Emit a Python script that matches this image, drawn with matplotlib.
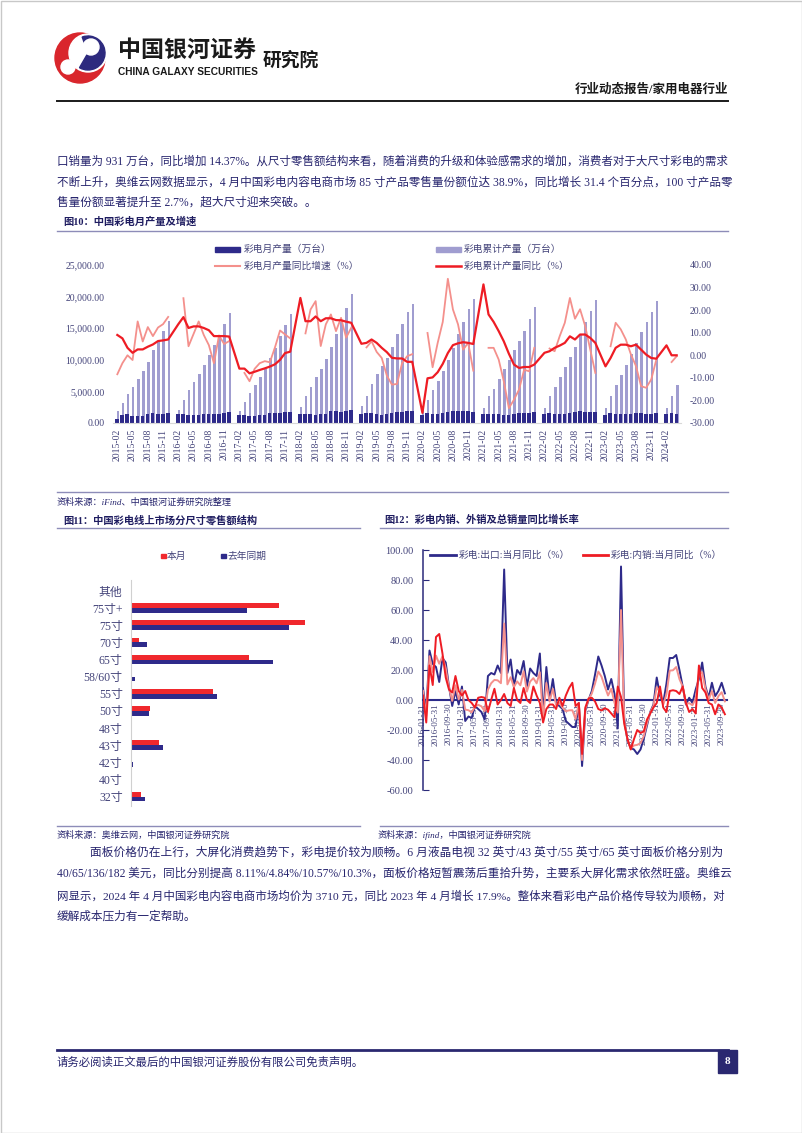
import numpy as np
import matplotlib
matplotlib.use("Agg")
import matplotlib.pyplot as plt
from matplotlib.patches import Rectangle, Circle, Wedge
from matplotlib.lines import Line2D

nan = np.nan
FAM = ['Liberation Serif', 'Noto Sans CJK SC']
plt.rcParams['font.family'] = FAM

# ---------------- Figure 10 data (万台 / %) ----------------
months10 = []
for _y in range(2015, 2025):
    for _m in range(1, 13):
        if (_y == 2015 and _m < 2) or (_y == 2024 and _m > 4):
            continue
        months10.append(f"{_y}-{_m:02d}")

monthly_prod = [
    630, 1300, 1350, 1100, 1150, 1150, 1350, 1650, 1400, 1450, 1550,
    nan, 1450, 1350, 1250, 1200, 1250, 1400, 1500, 1500, 1450, 1550, 1750,
    nan, 1250, 1250, 1150, 1100, 1200, 1300, 1550, 1600, 1600, 1700, 1800,
    nan, 1350, 1500, 1400, 1300, 1400, 1500, 1850, 1900, 1800, 1900, 2000,
    nan, 1500, 1600, 1600, 1400, 1300, 1400, 1600, 1800, 1800, 1850, 1900,
    nan, 1200, 1600, 1450, 1450, 1550, 1700, 1850, 1950, 1850, 1900, 1800,
    nan, 1400, 1500, 1350, 1350, 1300, 1300, 1450, 1550, 1550, 1600, 1700,
    nan, 1500, 1650, 1400, 1400, 1450, 1550, 1750, 1950, 1750, 1700, 1700,
    nan, 1300, 1600, 1500, 1400, 1450, 1500, 1600, 1600, 1400, 1500, 1600,
    nan, 1400, 1600, 1500]

cum_prod = [
    1850, 3200, 4650, 5700, 7000, 8200, 9700, 11600, 13050, 14500, 16100,
    nan, 2100, 3700, 5200, 6450, 7800, 9100, 10700, 12300, 13850, 15600, 17400,
    nan, 1950, 3400, 4750, 6000, 7300, 8550, 10300, 11900, 13700, 15500, 17200,
    nan, 2600, 4200, 5700, 7250, 8600, 10150, 12050, 14100, 16000, 18200, 20350,
    nan, 2650, 4300, 6100, 7800, 9000, 10300, 12100, 14100, 15600, 17500, 18900,
    nan, 2000, 3700, 5200, 6700, 8300, 10000, 11900, 14100, 16000, 18000, 19600,
    nan, 2400, 4200, 5400, 7000, 8500, 9900, 11500, 12900, 14500, 16500, 18300,
    nan, 2400, 4200, 5700, 7200, 8900, 10400, 12100, 14000, 16000, 17700, 19500,
    nan, 2300, 4200, 6000, 7600, 9200, 10900, 12700, 14400, 16000, 17600, 19300,
    nan, 2400, 4200, 6000]

monthly_yoy = [
    -8.4, -3.5, 0.0, -2.1, 15.0, 6.1, 12.5, 8.5, 12.3, 13.8, 17.0,
    nan, nan, 25.3, 4.0, 9.5, 15.0, 9.0, 4.5, -3.5, 8.8, 5.0, 6.3,
    nan, nan, -7.8, -11.5, -6.0, -3.5, -2.6, -3.1, 3.5, 11.0, 9.2, 7.5,
    nan, nan, 9.7, 20.3, 24.0, 4.1, 13.7, 18.1, 10.7, 16.6, 7.8, 12.2,
    nan, nan, 3.5, 6.2, 1.5, -1.2, -9.0, -13.0, -12.7, -3.5, -0.4, 0.5,
    nan, nan, 9.9, -5.3, 5.5, 14.8, 33.9, 20.3, 13.7, 2.5, 5.5, -6.8,
    nan, nan, 3.3, 3.3, -1.9, -11.5, -23.4, -19.7, -15.2, -6.4, -7.1, 3.3,
    nan, nan, 3.0, 1.8, 8.5, 14.4, 25.4, 16.2, 20.4, 13.0, 2.6, -7.8,
    nan, nan, 4.0, 14.4, 11.5, 7.0, 0.4, -4.8, -13.7, -14.4, -10.7, -1.9,
    nan, nan, -3.0, -0.4]

cum_yoy = [
    9.0, 7.5, 3.3, 1.1, 2.6, 2.6, 3.8, 4.8, 6.3, 6.6, 7.0,
    nan, 13.8, 16.9, 12.1, 12.8, 12.8, 12.1, 11.1, 8.5, 8.5, 8.5, 8.3,
    nan, -5.9, -5.9, -8.0, -7.3, -6.5, -5.8, -5.0, -4.0, -2.0, 1.0, 1.6,
    nan, 25.4, 15.1, 15.1, 17.2, 15.1, 16.4, 16.4, 15.6, 15.5, 14.9, 14.4,
    nan, 5.1, 5.5, 7.0, 5.5, 3.3, 1.4, -1.1, -1.4, -1.4, -2.9, -2.9,
    nan, -25.5, -10.2, -9.8, -7.5, -3.8, 1.0, 4.5, 5.3, 5.8, 5.5, 5.0,
    nan, 31.4, 18.1, 14.8, 10.7, 6.2, 0.7, -4.1, -5.6, -5.2, -5.2, -4.1,
    nan, 1.1, 1.8, 3.3, 4.3, 5.5, 8.4, 7.0, 9.2, 9.2, 7.7, 5.5,
    nan, -4.9, -1.2, 3.3, 4.7, 4.7, 4.0, 4.7, 2.5, 0.3, -1.2, -1.5,
    nan, 4.4, 0.0, 0.0]

# ---------------- Figure 11 data (%) ----------------
sizes = ['其他', '75寸+', '75寸', '70寸', '65寸', '58/60寸', '55寸',
         '50寸', '48寸', '43寸', '42寸', '40寸', '32寸']
this_month = [0.1, 25.2, 29.6, 1.3, 20.1, 0.0, 14.0, 3.3, 0.0, 4.7, 0.1, 0.06, 1.7]
last_year = [0.0, 19.7, 26.9, 2.8, 24.1, 0.7, 14.6, 3.0, 0.0, 5.4, 0.4, 0.2, 2.3]

# ---------------- Figure 12 data (%) ----------------
export_yoy = [
    8, -8, 33, 24, 22, 12, 28, 25, 9, -4, 6, -3,
    9, -14, -11, -12, -4, -6, -8, -13, 16, 18, 17, 23,
    18, 87, 18, 27, 9, 20, 17, 26, 9, 21, 18, 16,
    31, -11, 22, 0, 14, -2, -4, -6, -14, -16, -18, -18,
    -2, -44, -7, 0, 6, 17, 29, 23, 16, 7, 14, 4,
    -19, 89, -13, -27, -32, -33, -36, -33, -26, -17, -8, -3,
    15, 3, -2, 11, 28, 28, 30, 20, 9, -3, 1.5, -2,
    7, 14, 25, 9, 1.5, 11.5, 2.6, 6, 11.5, 4.4]
domestic_yoy = [
    3, -15, 23, 10, 42, 44, 31, 15, 7, 5, 16, 6,
    3, 6, 0, -2, -5, 1.5, 2, 1.5, -8, 0, 7.5, -3,
    0, 4, -2, -4, 8, 0, -2, 8, 0, -2, 9, 3,
    -2, -15, -6, -3, -3, -6, 1.5, -4, 3, 8, 11.5, -4,
    -2, -36, -5, 1, 1.5, -1, -6, -7, -5.5, -6.5, -9, -11.5,
    9, 2, -16, -26, -33, -26, -20, -22, -21, -13, -9, -5,
    -2, 9, -5, -8, 6, 6.5, 6, 4, 9, -2, -8, -6,
    -9, 23, 8, 5, -2, -3, -9.5, -3, -5, -9.5]
total_yoy = [
    6.1, -10.7, 29.2, 18.7, 29.6, 24.2, 29.1, 21.2, 8.2, -0.6, 9.8, 0.4,
    6.7, -6.4, -6.8, -8.2, -4.4, -3.2, -4.2, -7.5, 6.9, 11.2, 13.4, 13.1,
    11.2, 51.0, 10.4, 15.2, 8.6, 12.4, 9.8, 19.2, 5.6, 12.3, 14.6, 11.1,
    18.5, -12.5, 11.4, -1.1, 7.5, -3.5, -1.9, -5.2, -7.5, -6.9, -6.8, -12.7,
    -2.0, -40.0, -6.2, 0.4, 4.3, 11.0, 19.0, 15.5, 9.0, 3.0, 7.5, -1.9,
    -8.4, 60.0, -14.1, -26.6, -32.4, -30.3, -29.9, -28.8, -24.1, -15.5, -8.4, -3.8,
    8.5, 5.3, -3.1, 3.8, 19.6, 19.8, 22.0, 13.9, 9.0, -2.6, -2.1, -3.5,
    0.9, 17.4, 18.5, 7.5, 0.2, 6.0, -2.0, 2.6, 5.2, -0.9]
tick_dates12 = ['2016-01-31', '2016-05-31', '2016-09-30', '2017-01-31', '2017-05-31',
                '2017-09-30', '2018-01-31', '2018-05-31', '2018-09-30', '2019-01-31',
                '2019-05-31', '2019-09-30', '2020-01-31', '2020-05-31', '2020-09-30',
                '2021-01-31', '2021-05-31', '2021-09-30', '2022-01-31', '2022-05-31',
                '2022-09-30', '2023-01-31', '2023-05-31', '2023-09-30']

# ---------------- colours ----------------
TXT = '#27256e'
AXT = '#44447a'
NAVY = '#2e2a8a'
LAV = '#a09dd0'
RED = '#ee1c24'
SALMON = '#f4908c'
RULE = '#8d8cb8'

W, H = 802, 1133
fig = plt.figure(figsize=(W / 100, H / 100), dpi=100)


def rect(x0, y0, x1, y1):
    return [x0 / W, 1 - y1 / H, (x1 - x0) / W, (y1 - y0) / H]


bg = fig.add_axes([0, 0, 1, 1])
bg.set_xlim(0, W)
bg.set_ylim(H, 0)
bg.axis('off')

renderer = fig.canvas.get_renderer()


def put(x, y, s, size, color=TXT, weight='normal', ha='left', style='normal',
        family=None, justify=None, z=3):
    fam = family if family is not None else FAM
    t = bg.text(x, y, s, fontsize=size, color=color, fontweight=weight, ha=ha,
                va='center', fontstyle=style, family=fam, zorder=z)
    if justify is not None:
        bb = t.get_window_extent(renderer)
        if bb.width > 0:
            f = (justify - x) / bb.width
            f = max(0.9, min(1.1, f))
            t.set_fontsize(size * f)
    return t


# page border
bg.add_patch(Rectangle((0.5, 0.5), W - 1, H - 1, fill=False, ec='#c8c8c8', lw=1))

# ---- header / logo ----
bg.add_patch(Circle((80, 58), 25, color='#d9262c'))
bg.add_patch(Circle((88, 53), 19, color='white'))
bg.add_patch(Wedge((88, 53), 17, -110, 120, color='#2d2a7e'))
bg.add_patch(Circle((91, 47), 8, color='white'))
bg.add_patch(Circle((68, 67), 7, color='white'))
put(118, 50, '中国银河证券', 17, color='#1a1a1a', weight='bold',
    family=['Noto Sans CJK SC'], justify=256)
put(118, 72, 'CHINA GALAXY SECURITIES', 7.2, color='#1a1a1a', weight='bold',
    family=['Liberation Sans'], justify=257)
put(263, 60, '研究院', 13.5, color='#1a1a1a', weight='bold', family=['Noto Sans CJK SC'])
put(728, 90, '行业动态报告/家用电器行业', 9, color='#1a1a1a', ha='right', weight='bold')
bg.plot([57, 728], [101, 101], color='#1a1a1a', lw=1.4)

# ---- paragraph 1 ----
p1 = ['口销量为 931 万台，同比增加 14.37%。从尺寸零售额结构来看，随着消费的升级和体验感需求的增加，消费者对于大尺寸彩电的需求',
      '不断上升，奥维云网数据显示，4 月中国彩电内容电商市场 85 寸产品零售量份额位达 38.9%，同比增长 31.4 个百分点，100 寸产品零',
      '售量份额显著提升至 2.7%，超大尺寸迎来突破。。']
put(57, 162, p1[0], 8.4, justify=728)
put(57, 183, p1[1], 8.4, justify=728)
put(57, 203, p1[2], 8.4)

# ---- figure 10 title ----
put(63, 222, '图10：中国彩电月产量及增速', 7.4, weight='bold', color='#1e1c60')
bg.plot([57, 728], [231, 231], color=RULE, lw=1)

# ---- chart 10 ----
x10 = np.arange(len(months10))
mp = np.array(monthly_prod, dtype=float)
cp = np.array(cum_prod, dtype=float)
my = np.array(monthly_yoy, dtype=float)
cy = np.array(cum_yoy, dtype=float)

ax10 = fig.add_axes(rect(113, 265, 681, 423))
ax10.set_facecolor('none')
ax10.bar(x10 + 0.12, cp, width=0.5, color=LAV, zorder=1)
ax10.bar(x10 - 0.05, mp, width=0.72, color=NAVY, zorder=2)
ax10.set_xlim(-0.85, 110.85)
ax10.set_ylim(0, 25000)
ax10.set_yticks(np.arange(0, 25001, 5000))
ax10.set_yticklabels([f'{v:,.2f}' for v in np.arange(0, 25001, 5000)])
ax10.set_xticks(x10[::3])
ax10.set_xticklabels([months10[i] for i in x10[::3]], rotation=90)
ax10.tick_params(axis='both', length=0, colors=AXT, labelsize=7)
ax10.tick_params(axis='y', pad=6)
ax10.tick_params(axis='x', pad=4)
for s in ax10.spines.values():
    s.set_visible(False)
ax10.spines['bottom'].set_visible(True)
ax10.spines['bottom'].set_color('#d8d8d8')

ax10r = ax10.twinx()
ax10r.set_facecolor('none')
ax10r.plot(x10, my, color=SALMON, lw=1.3)
ok = ~np.isnan(cy)
ax10r.plot(x10[ok], cy[ok], color=RED, lw=1.6)
ax10r.set_ylim(-30, 40)
ax10r.set_yticks(np.arange(-30, 41, 10))
ax10r.set_yticklabels([f'{v:.2f}' for v in np.arange(-30, 41, 10)])
ax10r.tick_params(axis='y', length=0, colors=AXT, labelsize=7, pad=6)
for s in ax10r.spines.values():
    s.set_visible(False)

# legend 10
bg.add_patch(Rectangle((215, 246.5), 25, 5, color=NAVY))
put(244, 249, '彩电月产量（万台）', 7, color=AXT)
bg.add_patch(Rectangle((436, 246.5), 25, 5, color=LAV))
put(464, 249, '彩电累计产量（万台）', 7, color=AXT)
bg.plot([215, 240], [266, 266], color=SALMON, lw=1.5)
put(244, 266, '彩电月产量同比增速（%）', 7, color=AXT)
bg.plot([436, 461], [266, 266], color=RED, lw=1.8)
put(464, 266, '彩电累计产量同比（%）', 7, color=AXT)

bg.plot([57, 728], [492, 492], color=RULE, lw=1)
put(57, 502, '资料来源：iFind、中国银河证券研究院整理', 6.6, style='italic')

# ---- figure 11 / 12 titles ----
put(63, 520, '图11：中国彩电线上市场分尺寸零售额结构', 7.4, weight='bold', color='#1e1c60')
bg.plot([57, 360], [528, 528], color=RULE, lw=1)
put(384, 520, '图12：彩电内销、外销及总销量同比增长率', 7.4, weight='bold', color='#1e1c60')
bg.plot([380, 728], [528, 528], color=RULE, lw=1)

# ---- chart 11 ----
ax11 = fig.add_axes(rect(131, 580, 360, 806))
ax11.set_facecolor('none')
y11 = np.arange(len(sizes))
ax11.barh(y11 - 0.14, this_month, height=0.28, color='#f0282d')
ax11.barh(y11 + 0.14, last_year, height=0.28, color=NAVY)
ax11.set_ylim(12.55, -0.64)
ax11.set_xlim(0, 39)
ax11.set_yticks(y11)
ax11.set_yticklabels(sizes)
ax11.set_xticks([])
ax11.tick_params(axis='y', length=0, colors=AXT, labelsize=8.6, pad=6)
for k in ['top', 'right', 'bottom']:
    ax11.spines[k].set_visible(False)
ax11.spines['left'].set_color('#d0d0d0')

bg.add_patch(Rectangle((161, 553.5), 4.5, 4.5, color='#f0282d'))
put(167, 556, '本月', 7, color=AXT)
bg.add_patch(Rectangle((221, 553.5), 4.5, 4.5, color=NAVY))
put(227, 556, '去年同期', 7, color=AXT)

# ---- chart 12 ----
x12 = np.arange(len(export_yoy))
ax12 = fig.add_axes(rect(423, 550, 727.5, 790))
ax12.set_facecolor('none')
ax12.spines['bottom'].set_position(('data', 0))
ax12.plot(x12, export_yoy, color=NAVY, lw=1.4, zorder=3)
ax12.plot(x12, total_yoy, color=SALMON, lw=1.4, zorder=4)
ax12.plot(x12, domestic_yoy, color=RED, lw=1.4, zorder=5)
ax12.set_xlim(0, 93.8)
ax12.set_ylim(-60, 100)
ax12.set_yticks(np.arange(-60, 101, 20))
ax12.set_yticklabels([f'{v:.2f}' for v in np.arange(-60, 101, 20)])
ax12.set_xticks(x12[::4])
ax12.set_xticklabels(tick_dates12, rotation=90, va='top', ha='center')
ax12.spines['bottom'].set_color('#2b2a8a')
ax12.spines['bottom'].set_linewidth(1.5)
ax12.spines['left'].set_color('#2b2a7a')
ax12.spines['left'].set_linewidth(1.1)
ax12.spines['top'].set_visible(False)
ax12.spines['right'].set_visible(False)
ax12.tick_params(axis='y', direction='in', length=4, color='#2b2a7a',
                 labelcolor=AXT, labelsize=7.5, pad=7)
ax12.tick_params(axis='x', length=0, labelcolor=AXT, labelsize=6.6, pad=2)

bg.plot([430, 456], [555, 555], color=NAVY, lw=2)
put(459, 555, '彩电:出口:当月同比（%）', 7, color=AXT)
bg.plot([583, 608], [555, 555], color=RED, lw=2)
put(611, 555, '彩电:内销:当月同比（%）', 7, color=AXT)

# ---- sources ----
bg.plot([57, 360], [826, 826], color=RULE, lw=1)
bg.plot([380, 728], [826, 826], color=RULE, lw=1)
put(57, 835, '资料来源：奥维云网，中国银河证券研究院', 6.6, style='italic')
put(378, 835, '资料来源：ifind，中国银河证券研究院', 6.6, style='italic')

# ---- paragraph 2 ----
p2 = ['面板价格仍在上行，大屏化消费趋势下，彩电提价较为顺畅。6 月液晶电视 32 英寸/43 英寸/55 英寸/65 英寸面板价格分别为',
      '40/65/136/182 美元，同比分别提高 8.11%/4.84%/10.57%/10.3%，面板价格短暂震荡后重拾升势，主要系大屏化需求依然旺盛。奥维云',
      '网显示，2024 年 4 月中国彩电内容电商市场均价为 3710 元，同比 2023 年 4 月增长 17.9%。整体来看彩电产品价格传导较为顺畅，对',
      '缓解成本压力有一定帮助。']
put(90, 853, p2[0], 8.4, justify=718)
put(57, 874, p2[1], 8.4, justify=728)
put(57, 896, p2[2], 8.4, justify=720)
put(57, 917, p2[3], 8.4)

# ---- footer ----
bg.plot([57, 728], [1050, 1050], color='#2a2870', lw=2)
bg.add_patch(Rectangle((718, 1050), 19, 23, color='#2a2870'))
put(727.5, 1061, '8', 8, color='white', weight='bold', ha='center')
put(57, 1062, '请务必阅读正文最后的中国银河证券股份有限公司免责声明。', 8.2)

fig.savefig('out.png', dpi=100)
